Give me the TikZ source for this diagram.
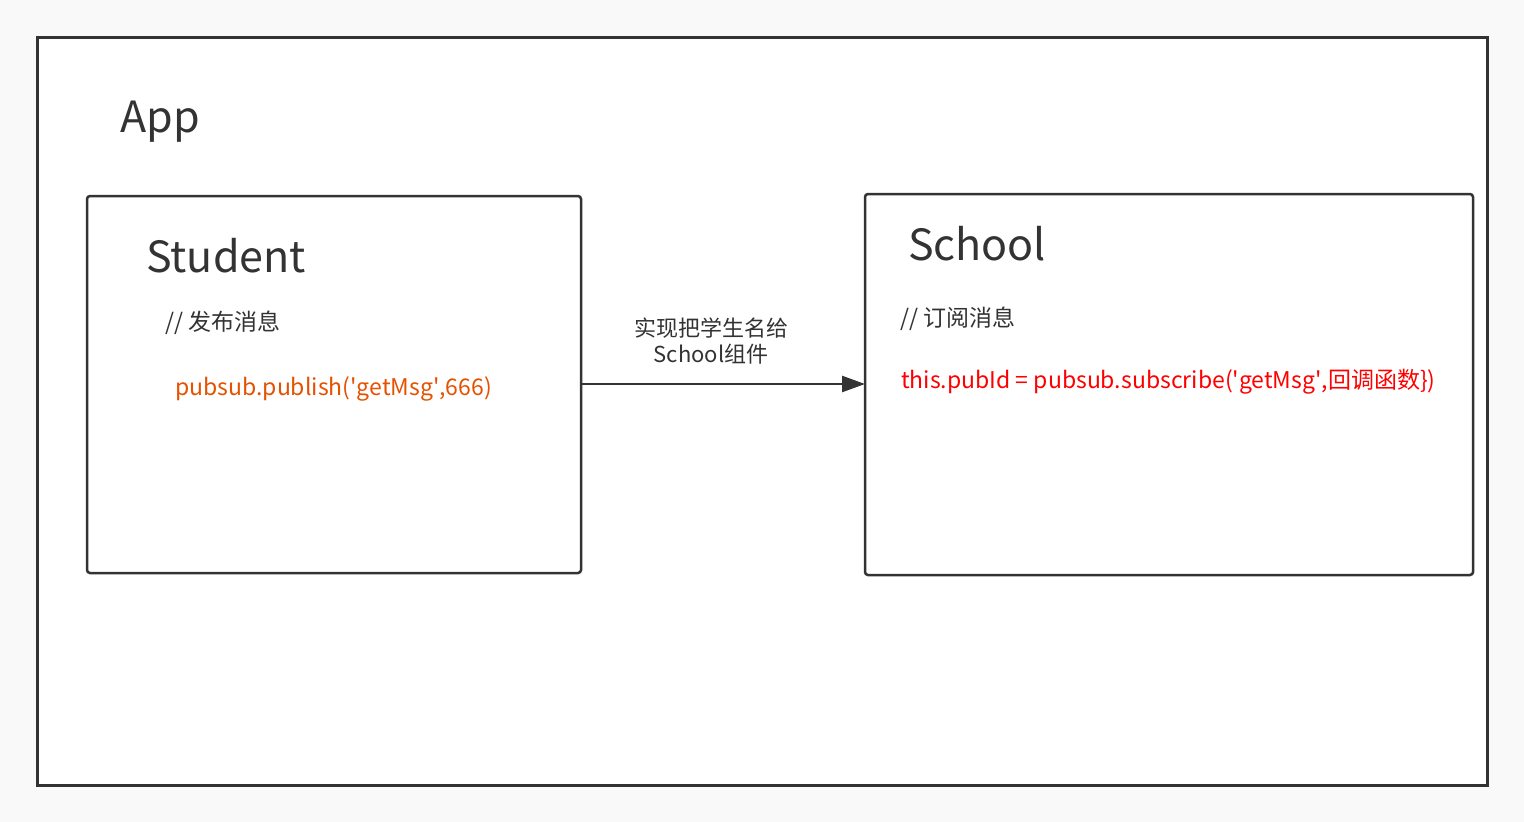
\documentclass[tikz,border=0pt]{standalone}
\usepackage{fontspec}
\setmainfont{Noto Sans CJK SC}
\usetikzlibrary{positioning,arrows.meta}
\definecolor{linegray}{HTML}{333333}
\definecolor{pagegray}{HTML}{F9F9F9}
\definecolor{puborange}{HTML}{E65100}
\definecolor{subred}{HTML}{FF0000}
\newcommand{\fs}[1]{\fontsize{#1}{1.2\dimexpr#1pt\relax}\selectfont}
\newcommand{\sq}{\textquotesingle}

\begin{document}
\begin{tikzpicture}[x=1pt, y=-1pt,
    comp/.style={draw=linegray, line width=2.5pt, rounded corners=3pt, fill=white},
    title/.style={anchor=base west, inner sep=0pt, text=linegray, font=\fs{43}},
    remark/.style={anchor=base west, inner sep=0pt, text=linegray, font=\fs{23}},
    code/.style={anchor=base west, inner sep=0pt, font=\fs{23}}]
  \useasboundingbox[fill=pagegray] (0,0) rectangle (1524,822);
  \draw[draw=linegray, line width=3pt, fill=white] (37,37) rectangle (1487,785);
  \node[title] (app) at (120,132) {App};

  \draw[comp] (87,196) rectangle (581,573);
  \coordinate (stu) at (581,384);
  \node[title] (stuname) at (146,272) {Student};
  \node[remark] (pubnote) at (165,330) {// 发布消息};
  \node[code, text=puborange] (pubcode) at (175,395) {pubsub.publish(\sq getMsg\sq,666)};

  \draw[comp] (865,194) rectangle (1473,575);
  \coordinate (sch) at (865,384);
  \node[title] (schname) at (908,260) {School};
  \node[remark] (subnote) at (900,326) {// 订阅消息};
  \node[code, text=subred] (subcode) at (901,388) {this.pubId = pubsub.subscribe(\sq getMsg\sq,回调函数\})};

  \draw[draw=linegray, line width=2.5pt, -{Triangle[length=23pt,width=16pt]}] (stu) -- (sch);
  \node[align=center, text=linegray, font=\fs{22}, inner sep=0pt] (sendname) at (711,341) {实现把学生名给\\School组件};
\end{tikzpicture}
\end{document}
